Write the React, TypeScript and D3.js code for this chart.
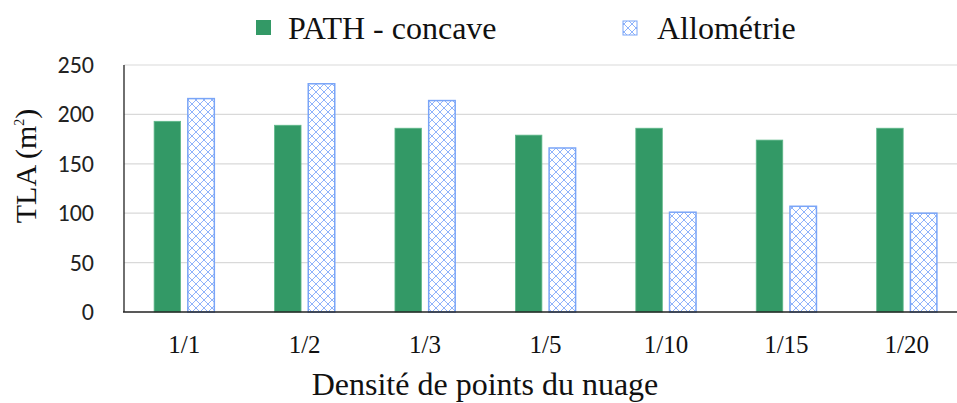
import React from "react";
import * as d3 from "d3";

const categories = ["1/1", "1/2", "1/3", "1/5", "1/10", "1/15", "1/20"];
const pathConcave = [193, 189, 186, 179, 186, 174, 186];
const allometrie = [216, 231, 214, 166, 101, 107, 100];
const yTicks = [0, 50, 100, 150, 200, 250];
const seriesNames = ["PATH - concave", "Allométrie"];

const W = 957;
const H = 403;
const plotLeft = 124;
const plotRight = 967;
const plotTop = 65;
const plotBottom = 312;

const serif = { fontFamily: "Liberation Serif" };
const sans = { fontFamily: "Carlito" };

export default function App() {
  const x = d3.scaleBand<string>().domain(categories).range([plotLeft, plotRight]).padding(0);
  const y = d3.scaleLinear().domain([0, 250]).range([plotBottom, plotTop]);
  const bw = x.bandwidth();
  const barW = 0.22 * bw;
  const gap = 0.06 * bw;
  const green = "#339966";
  const blue = "#7aa5f7";

  return (
    <svg width={W} height={H} style={{ position: "absolute", left: 0, top: 0, background: "#fff" }}>
      <defs>
        <pattern id="diag" width={8} height={8} patternUnits="userSpaceOnUse">
          <rect width={8} height={8} fill="#fff" />
          <path d="M0,0 L8,8 M8,0 L0,8" stroke="#8fb3fb" strokeWidth={1} fill="none" />
        </pattern>
      </defs>
      <rect x={0} y={0} width={W} height={H} fill="#fff" />
      {yTicks.filter((t) => t > 0).map((t) => (
        <line key={t} x1={plotLeft} x2={W} y1={y(t)} y2={y(t)} stroke="#d9d9d9" strokeWidth={1.2} />
      ))}
      {categories.map((c, i) => {
        const cx = (x(c) as number) + bw / 2;
        const g = pathConcave[i];
        const a = allometrie[i];
        return (
          <g key={c}>
            <rect x={cx - gap / 2 - barW} y={y(g)} width={barW} height={y(0) - y(g)} fill={green} stroke="#5fb88a" strokeWidth={0.8} />
            <rect x={cx + gap / 2} y={y(a)} width={barW} height={y(0) - y(a)} fill="url(#diag)" stroke={blue} strokeWidth={1.5} />
          </g>
        );
      })}
      <line x1={plotLeft} x2={plotLeft} y1={plotTop} y2={plotBottom} stroke="#222" strokeWidth={1.3} />
      <line x1={plotLeft - 1} x2={W} y1={plotBottom} y2={plotBottom} stroke="#222" strokeWidth={1.3} />
      {yTicks.map((t) => (
        <text key={t} x={94} y={y(t) + 8} textAnchor="end" fontSize={24} fill="#222" style={sans}>
          {t}
        </text>
      ))}
      {categories.map((c) => (
        <text key={c} x={(x(c) as number) + bw / 2} y={353} textAnchor="middle" fontSize={25} fill="#111" style={serif}>
          {c}
        </text>
      ))}
      <text x={485} y={395} textAnchor="middle" fontSize={32} fill="#111" style={serif}>
        Densité de points du nuage
      </text>
      <text transform={`translate(36,166) rotate(-90)`} textAnchor="middle" fontSize={30} fill="#111" style={serif}>
        TLA (m<tspan fontSize={14} dy={-12}>2</tspan><tspan dy={12}>)</tspan>
      </text>
      <rect x={256} y={20} width={15} height={15} fill={green} />
      <text x={288} y={39} fontSize={32} fill="#111" style={serif}>{seriesNames[0]}</text>
      <rect x={623} y={21} width={14} height={14} fill="url(#diag)" stroke={blue} strokeWidth={1} />
      <text x={657} y={39} fontSize={32} fill="#111" style={serif}>{seriesNames[1]}</text>
    </svg>
  );
}
